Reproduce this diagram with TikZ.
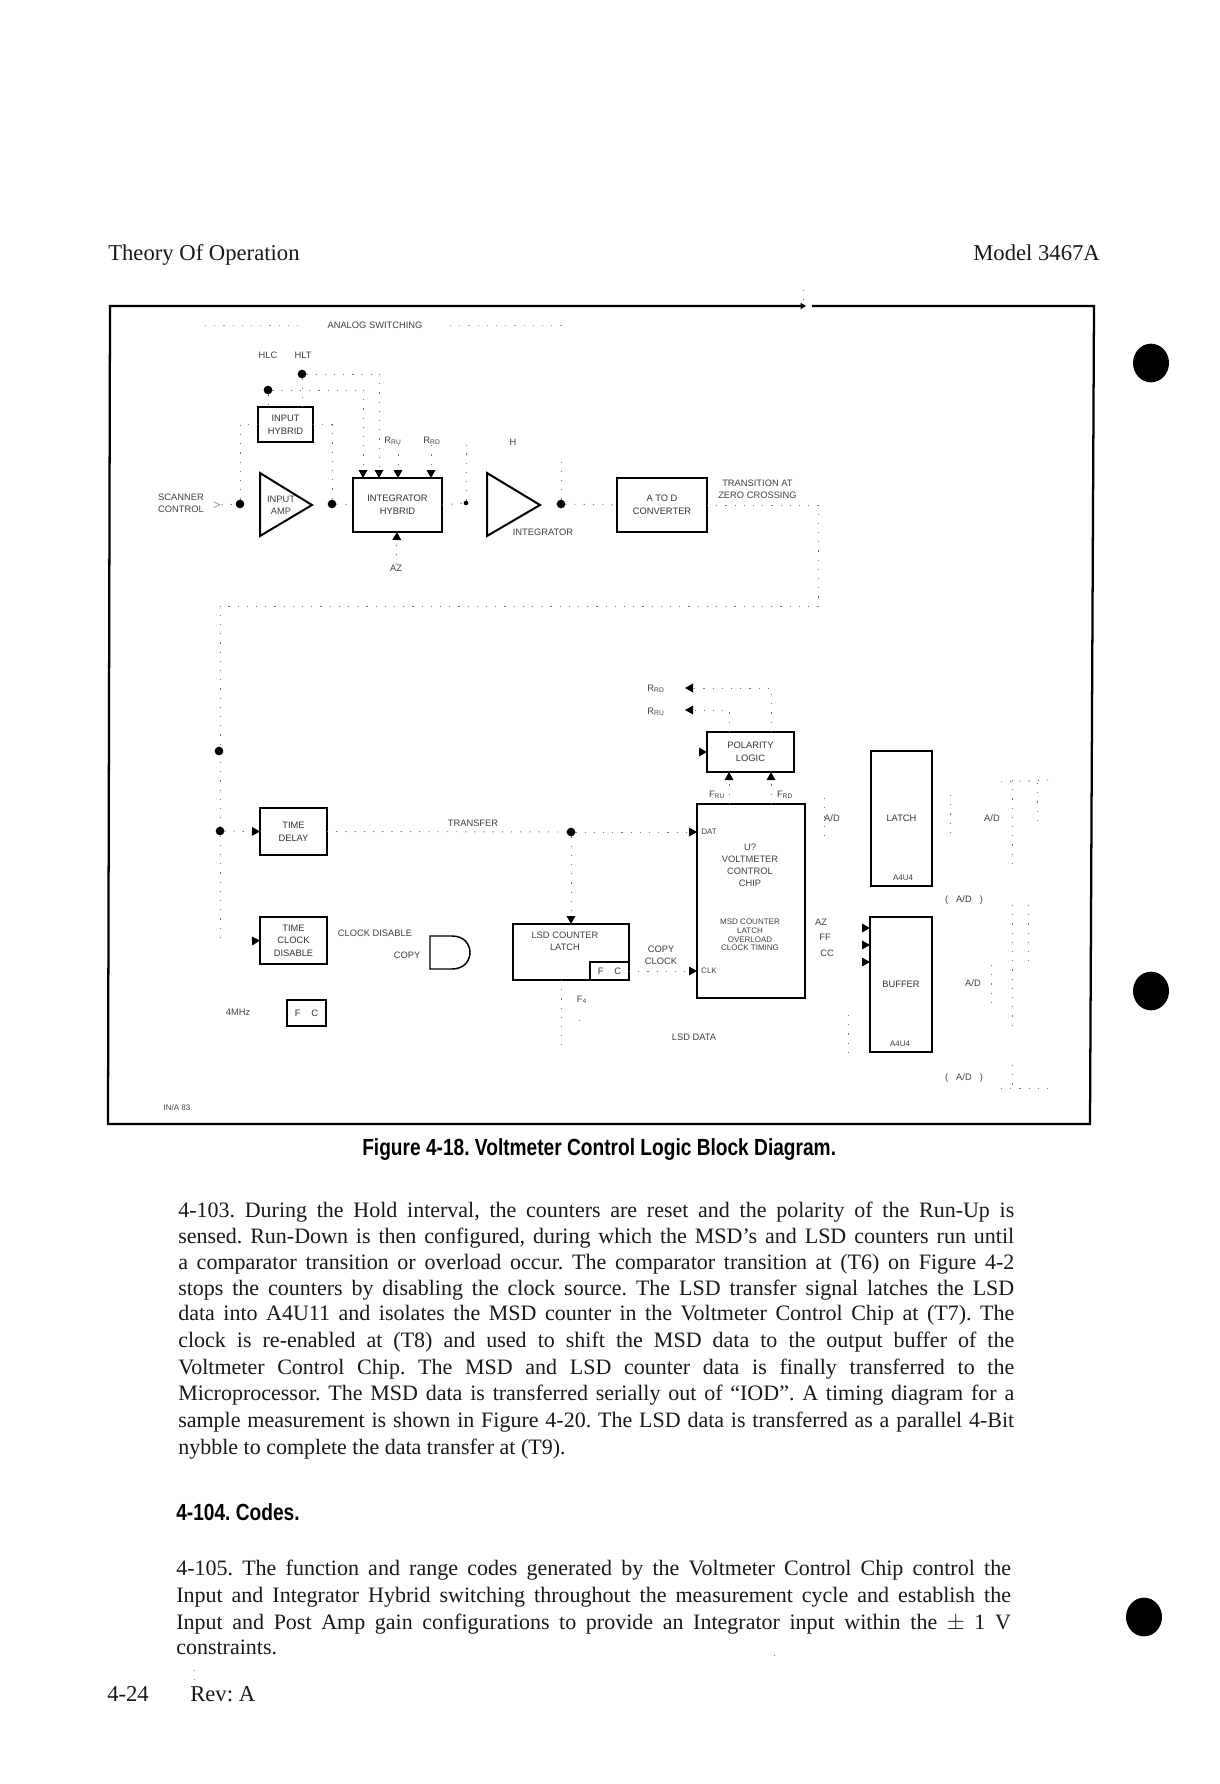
\documentclass[tikz,border=0pt]{standalone}
\usepackage{fontspec}
\setmainfont{Liberation Serif}
\newfontfamily\labf{Liberation Sans}
\newfontfamily\capf[FakeStretch=0.82]{Liberation Sans Bold}
\usetikzlibrary{arrows.meta}
\frenchspacing
\tikzset{
  blk/.style={draw=black,line width=1.5pt,inner sep=0pt,outer sep=0pt,align=center,font=\labf\fontsize{7}{9.5}\selectfont,text=black!80},
  lab/.style={inner sep=0pt,align=center,font=\labf\fontsize{7}{9}\selectfont,text=black!75},
  tiny/.style={lab,font=\labf\fontsize{6}{7.5}\selectfont},
  dotn/.style={circle,fill=black,inner sep=0pt,minimum size=6.5pt,outer sep=0pt},
  dots/.style={circle,fill=black,inner sep=0pt,minimum size=3.5pt,outer sep=0pt},
  wire/.style={line width=0.7pt,black!55,dash pattern=on 0.9pt off 6pt},
  wtip/.style={wire,-{Triangle[length=6pt,width=6.5pt,color=black,fill=black]}},
  frameln/.style={line width=1.7pt,black},
  gatel/.style={line width=1.1pt,black},
  bline/.style={inner sep=0pt,anchor=base west,font=\fontsize{16.5}{20}\selectfont,text=black!90},
  hdr/.style={inner sep=0pt,anchor=base west,font=\fontsize{17}{19}\selectfont,text=black!90},
  capt/.style={inner sep=0pt,anchor=base west,font=\capf\fontsize{17.5}{20}\selectfont},
  hole/.style={ellipse,fill=black}
}
\usetikzlibrary{shapes.geometric}
\newcommand\bx[6]{\node[blk,minimum width={(#4-#2)*0.75pt},minimum height={(#5-#3)*0.75pt}] (#1) at ({(#2+#4)/2},{(#3+#5)/2}) {#6};}
\newcommand\bl[4]{\node[bline] (#1) at (#2,#3) {\makebox[#4pt][s]{\csname blt#1\endcsname}};}
\begin{document}
\begin{tikzpicture}[x=0.75pt,y=-0.75pt]
\useasboundingbox (0,0) rectangle (1220,1784);
\fill[white] (0,0) rectangle (1220,1784);
% page head
\node[hdr] (head1) at (108,260) {Theory Of Operation};
\node[hdr] (head2) at (973,260) {Model 3467A};
% frame
\draw[frameln] (803,306) -- (110,306) -- (108,1124) -- (1090,1124) -- (1094,306) -- (812,306);
\coordinate (frmtop) at (803,290);
\coordinate (frmtip) at (803,303);
\draw[wire] (frmtop) -- (frmtip);
\coordinate (ntcha) at (799,306); \coordinate (ntchb) at (806,306);
\draw[-{Triangle[length=4pt,width=4.5pt,color=black,fill=black]},line width=1pt] (ntcha) -- (ntchb);
% holes
\node[hole,minimum width=27pt,minimum height=29pt] (h1) at (1151,363) {};
\node[hole,minimum width=27pt,minimum height=29pt] (h2) at (1151,991) {};
\node[hole,minimum width=27pt,minimum height=29pt] (h3) at (1144,1617) {};
% title of diagram
\node[lab] (ttl) at (375,325) {ANALOG SWITCHING};
\coordinate (ta) at (205,325); \coordinate (tb) at (305,325);
\coordinate (tc) at (450,325); \coordinate (td) at (562,325);
\draw[wire,black!40] (ta) -- (tb); \draw[wire,black!40] (tc) -- (td);
% input section
\node[lab] (lhlc) at (268,355) {HLC};
\node[lab] (lhlt) at (303,355) {HLT};
\node[dotn] (d1) at (268,390) {};
\node[dotn] (d2) at (302,374) {};
\bx{inhyb}{258}{407}{313}{442}{INPUT\\HYBRID}
\bx{inthyb}{353}{478}{442}{532}{INTEGRATOR\\HYBRID}
\bx{adc}{617}{478}{707}{532}{A TO D\\CONVERTER}
\draw[line width=1.5pt] (260,473) -- (260,536) -- (312,505) -- cycle;
\draw[line width=1.5pt] (487,473) -- (487,536) -- (540,505) -- cycle;
\node[lab] (ampt) at (281,505) {INPUT\\AMP};
\node[lab] (intl) at (543,532) {INTEGRATOR};
\node[lab] (scan) at (181,503) {SCANNER\\CONTROL};
\node[lab] (gt) at (217,505) {$>$};
\node[dotn] (dscan) at (240,504) {};
\node[dotn] (damp) at (332,504) {};
\node[dots] (dint) at (466,503) {};
\node[dotn] (dout) at (561,504) {};
\coordinate (ca) at (363,478); \coordinate (cb) at (379,478);
\coordinate (cc) at (398,478); \coordinate (cd) at (431,478);
\coordinate (ce) at (397,532);
\node[lab] (lf1) at (393,441) {R\textsubscript{RU}};
\node[lab] (lf2) at (432,441) {R\textsubscript{RD}};
\node[lab] (lh) at (513,442) {H};
\node[lab] (laz) at (396,568) {AZ};
\coordinate (ci) at (466,445);
\coordinate (co) at (561,455);
\draw[wire] (d1) -- (d1 |- inhyb.north);
\draw[wire] (d2) -- (d2 |- inhyb.north);
\draw[wire] (d2) -- (cb |- d2);
\draw[wire] (d1) -- (ca |- d1);
\draw[wtip] (ca |- d1) -- (ca);
\draw[wtip] (cb |- d2) -- (cb);
\draw[wtip] (cc |- lf1.south) -- (cc);
\draw[wtip] (cd |- lf2.south) -- (cd);
\draw[wtip] (laz) -- (ce);
\draw[wire] (dscan) |- (inhyb.west);
\draw[wire] (inhyb.east) -| (damp);
\draw[wire] (gt) -- (dscan);
\draw[wire] (damp) -- (inthyb.west);
\draw[wire] (inthyb.east) -- (dint);
\draw[wire] (dint) -- (ci);
\draw[wire] (dout) -- (co);
\draw[wire] (dout) -- (adc.west);
\node[lab,anchor=west] (ltr) at (718,489) {TRANSITION AT\\ZERO CROSSING};
\coordinate (t1) at (818,505); \coordinate (t2) at (818,606);
\coordinate (t3) at (220,606); \coordinate (t4) at (220,941);
\draw[wire] (adc.east) -- (t1) -- (t2) -- (t3) -- (t4);
\node[dotn] (dl1) at (219,751) {};
\node[dotn] (dl2) at (220,831) {};
% lower left
\bx{tdly}{260}{808}{327}{855}{TIME\\DELAY}
\bx{tclk}{260}{917}{327}{964}{TIME\\CLOCK\\DISABLE}
\bx{fc1}{287}{1000}{326}{1026}{F\hspace{8pt}C}
\bx{lsd}{513}{924}{629}{980}{}
\node[lab] (lsdt) at (565,941) {LSD COUNTER\\LATCH};
\bx{fc2}{590}{962}{629}{980}{F\hspace{8pt}C}
\coordinate (st2) at (252,941);
\draw[wtip] (st2) -- (tclk.west);
\draw[wtip] (dl2) -- (tdly.west);
\node[lab] (lclk) at (375,933) {CLOCK DISABLE};
\node[lab] (lcopy) at (407,955) {COPY};
\node[lab] (lmhz) at (238,1012) {4MHz};
\node[tiny] (lfig) at (177,1108) {IN/A 83};
\draw[gatel] (430,936) -- (452,936) .. controls (476,936) and (476,969) .. (452,969) -- (430,969) -- cycle;
\node[lab] (lxfer) at (473,823) {TRANSFER};
\node[dotn] (dx) at (571,832) {};
\coordinate (lt) at (571,924);
\coordinate (vp1) at (697,832); \coordinate (vp2) at (697,971);
\draw[wire] (tdly.east) -- (dx);
\draw[wtip] (dx) -- (lt);
\draw[wtip] (dx) -- (vp1);
\draw[wtip] (lsd.east |- vp2) -- (vp2);
\coordinate (ls1) at (561,980); \coordinate (ls2) at (561,1045);
\coordinate (ls3) at (579,1020); \coordinate (ls4) at (579,1026);
\draw[wire] (ls1) -- (ls2);
\draw[wire] (ls3) -- (ls4);
\node[lab] (lf4) at (582,1000) {F\textsubscript{4}};
\node[lab] (lcc) at (661,955) {COPY\\CLOCK};
\node[lab] (lld) at (694,1037) {LSD DATA};
% polarity and chip
\bx{pol}{707}{732}{794}{772}{POLARITY\\LOGIC}
\bx{vcc}{697}{804}{805}{998}{}
\node[lab] (vct) at (750,865) {U?\\VOLTMETER\\CONTROL\\CHIP};
\node[tiny,font=\labf\fontsize{6}{6.5}\selectfont] (vcb) at (750,935) {MSD COUNTER\\LATCH\\OVERLOAD\\CLOCK TIMING};
\node[tiny] (pd) at (709,832) {DAT};
\node[tiny] (pc) at (709,971) {CLK};
\coordinate (p1t) at (729,772); \coordinate (p2t) at (771,772);
\coordinate (p1b) at (729,804); \coordinate (p2b) at (771,804);
\coordinate (p1u) at (729,732); \coordinate (p2u) at (771,732);
\coordinate (a1) at (685,710); \coordinate (a2) at (685,688);
\coordinate (pl0) at (699,752); \coordinate (pl1) at (707,752);
\draw[wtip] (p1b) -- (p1t);
\draw[wtip] (p2b) -- (p2t);
\draw[wtip] (p1u) |- (a1);
\draw[wtip] (p2u) |- (a2);
\draw[wtip] (pl0) -- (pl1);
\node[lab] (lr1) at (656,689) {R\textsubscript{RD}};
\node[lab] (lr2) at (656,712) {R\textsubscript{RU}};
\node[lab] (lf3) at (717,795) {F\textsubscript{RU}};
\node[lab] (lf5) at (785,795) {F\textsubscript{RD}};
\bx{latchb}{871}{751}{932}{886}{LATCH}
\bx{bufb}{870}{917}{932}{1052}{BUFFER}
\node[tiny] (lat2) at (903,878) {A4U4};
\node[tiny] (buf2) at (900,1044) {A4U4};
\foreach \i/\y in {1/928,2/945,3/962}{
  \coordinate (b\i a) at (862,\y);
  \coordinate (b\i b) at (870,\y);
  \draw[wtip] (b\i a) -- (b\i b);
}
\node[lab] (l1) at (832,818) {A/D};
\node[lab] (l2) at (992,818) {A/D};
\node[lab] (l3) at (964,900) {(\hspace{6pt}A/D\hspace{6pt})};
\node[lab] (l4) at (973,983) {A/D};
\node[lab] (l5) at (964,1078) {(\hspace{6pt}A/D\hspace{6pt})};
\node[lab] (l6) at (821,922) {AZ};
\node[lab] (l7) at (825,937) {FF};
\node[lab] (l8) at (827,953) {CC};
% faint right hand traces
\coordinate (r1) at (1012,780); \coordinate (r2) at (1012,867);
\coordinate (r3) at (1037,783); \coordinate (r4) at (1037,827);
\coordinate (r5) at (1012,905); \coordinate (r6) at (1012,1030);
\coordinate (r7) at (1012,1065); \coordinate (r8) at (1012,1088);
\coordinate (r9) at (1001,1088); \coordinate (r10) at (1048,1088);
\coordinate (r11) at (1001,782); \coordinate (r12) at (1048,780);
\coordinate (r13) at (950,795); \coordinate (r14) at (950,838);
\coordinate (r15) at (824,798); \coordinate (r16) at (824,838);
\coordinate (r17) at (991,965); \coordinate (r18) at (991,1003);
\coordinate (r19) at (848,1015); \coordinate (r20) at (848,1057);
\coordinate (r21) at (1028,905); \coordinate (r22) at (1028,965);
\draw[wire] (r1) -- (r2); \draw[wire] (r3) -- (r4);
\draw[wire] (r5) -- (r6); \draw[wire] (r7) -- (r8);
\draw[wire] (r9) -- (r10); \draw[wire] (r11) -- (r12);
\draw[wire] (r13) -- (r14); \draw[wire] (r15) -- (r16);
\draw[wire] (r17) -- (r18); \draw[wire] (r19) -- (r20);
\draw[wire] (r21) -- (r22);
% caption
\node[capt] (cap) at (362,1155) {Figure 4-18. Voltmeter Control Logic Block Diagram.};
% body
\expandafter\def\csname bltb1\endcsname{4-103. During the Hold interval, the counters are reset and the polarity of the Run-Up is}
\expandafter\def\csname bltb2\endcsname{sensed. Run-Down is then configured, during which the MSD's and LSD counters run until}
\expandafter\def\csname bltb3\endcsname{a comparator transition or overload occur. The comparator transition at (T6) on Figure 4-2}
\expandafter\def\csname bltb4\endcsname{stops the counters by disabling the clock source. The LSD transfer signal latches the LSD}
\expandafter\def\csname bltb5\endcsname{data into A4U11 and isolates the MSD counter in the Voltmeter Control Chip at (T7). The}
\expandafter\def\csname bltb6\endcsname{clock is re-enabled at (T8) and used to shift the MSD data to the output buffer of the}
\expandafter\def\csname bltb7\endcsname{Voltmeter Control Chip. The MSD and LSD counter data is finally transferred to the}
\expandafter\def\csname bltb8\endcsname{Microprocessor. The MSD data is transferred serially out of ``IOD''. A timing diagram for a}
\expandafter\def\csname bltb9\endcsname{sample measurement is shown in Figure 4-20. The LSD data is transferred as a parallel 4-Bit}
\expandafter\def\csname bltc1\endcsname{4-105. The function and range codes generated by the Voltmeter Control Chip control the}
\expandafter\def\csname bltc2\endcsname{Input and Integrator Hybrid switching throughout the measurement cycle and establish the}
\expandafter\def\csname bltc3\endcsname{Input and Post Amp gain configurations to provide an Integrator input within the $\pm$ 1 V}
\bl{b1}{178}{1217}{627}
\bl{b2}{178}{1243}{627}
\bl{b3}{178}{1269}{627}
\bl{b4}{178}{1295}{627}
\bl{b5}{178}{1320}{627}
\bl{b6}{178}{1347}{627}
\bl{b7}{178}{1374}{627}
\bl{b8}{178}{1400}{627}
\bl{b9}{178}{1427}{627}
\node[bline] (b10) at (178,1454) {nybble to complete the data transfer at (T9).};
\node[capt] (sec) at (176,1520) {4-104. Codes.};
\bl{c1}{176}{1575}{626}
\bl{c2}{176}{1602}{626}
\bl{c3}{176}{1629}{626}
\node[bline] (c4) at (176,1654) {constraints.};
\node[hdr] (pg) at (107,1701) {4-24};
\node[hdr] (rev) at (190,1701) {Rev: A};
\coordinate (m1) at (194,1670); \coordinate (m2) at (194,1687);
\draw[wire] (m1) -- (m2);
\coordinate (m3) at (774,1655); \coordinate (m4) at (774,1664);
\draw[wire] (m3) -- (m4);
\end{tikzpicture}
\end{document}
